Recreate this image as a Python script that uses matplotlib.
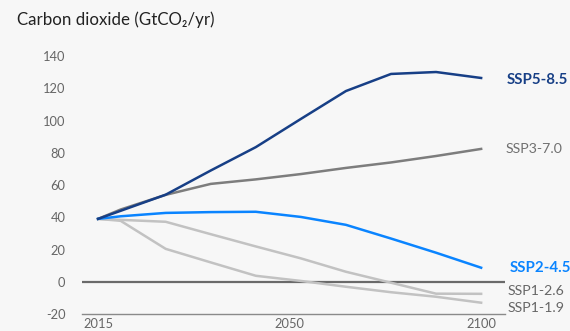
import matplotlib.pyplot as plt

plt.rcParams['font.family'] = ['Lato', 'DejaVu Sans']

years = [2015, 2020, 2030, 2040, 2050, 2060, 2070, 2080, 2090, 2100]

ssp585 = [39.0, 44.0, 54.0, 69.0, 83.5, 101.0, 118.3, 128.9, 130.1, 126.4]
ssp370 = [39.0, 44.8, 53.9, 60.7, 63.5, 66.8, 70.6, 74.0, 78.0, 82.4]
ssp245 = [39.0, 40.6, 42.7, 43.2, 43.4, 40.2, 35.3, 26.8, 18.0, 8.7]
ssp126 = [39.0, 38.4, 37.2, 29.5, 21.9, 14.5, 6.2, -0.6, -7.4, -7.5]
ssp119 = [39.0, 37.8, 20.4, 12.0, 3.7, 0.5, -3.1, -6.5, -9.3, -13.0]

yticks = [-20, 0, 20, 40, 60, 80, 100, 120, 140]
xtick_labels = ['2015', '2050', '2100']
xtick_pos = [2015, 2057.5, 2100]   # middle label sits right of 2050 in the original

BG = '#f7f7f7'
NAVY = '#173f86'
GREY = '#7d7d7d'
BLUE = '#0a84ff'
LIGHT = '#c2c2c2'

fig = plt.figure(figsize=(5.7, 3.31), dpi=100, facecolor=BG)
ax = fig.add_axes([0.144, 0.0514, 0.742, 0.8036], facecolor=BG)

ax.axhline(0, color='#6a6a6a', lw=1.6, zorder=1)

ax.plot(years, ssp119, color=LIGHT, lw=1.8, zorder=2)
ax.plot(years, ssp126, color=LIGHT, lw=1.8, zorder=2)
ax.plot(years, ssp370, color=GREY, lw=1.8, zorder=3)
ax.plot(years, ssp245, color=BLUE, lw=1.8, zorder=4)
ax.plot(years, ssp585, color=NAVY, lw=1.8, zorder=5)

ax.set_xlim(2011.45, 2105.3)
ax.set_ylim(-20, 145)

for s in ['top', 'right', 'left']:
    ax.spines[s].set_visible(False)
ax.spines['bottom'].set_position(('data', -20))
ax.spines['bottom'].set_color('#8a8a8a')
ax.spines['bottom'].set_linewidth(1.0)

ax.set_yticks(yticks)
ax.set_yticklabels([str(v) for v in yticks])
ax.set_xticks(xtick_pos)
ax.set_xticklabels(xtick_labels)
ax.tick_params(axis='both', length=0, labelsize=9.3, labelcolor='#666666')
ax.tick_params(axis='y', pad=12)
ax.tick_params(axis='x', pad=3)

lx = 2105.6
ax.text(lx, ssp585[-1] - 1, 'SSP5-8.5', color=NAVY, fontsize=10.8, fontweight='bold',
        va='center', ha='left', clip_on=False)
ax.text(lx - 0.2, ssp370[-1], 'SSP3-7.0', color='#707070', fontsize=10.2,
        va='center', ha='left', clip_on=False)
ax.text(lx + 0.8, ssp245[-1], 'SSP2-4.5', color=BLUE, fontsize=10.8, fontweight='bold',
        va='center', ha='left', clip_on=False)
ax.text(lx + 0.2, -5.6, 'SSP1-2.6', color='#666666', fontsize=10.2,
        va='center', ha='left', clip_on=False)
ax.text(lx + 0.2, -16.0, 'SSP1-1.9', color='#666666', fontsize=10.2,
        va='center', ha='left', clip_on=False)

fig.text(17 / 570, 1 - 20 / 331, 'Carbon dioxide (GtCO₂/yr)', fontsize=12.2,
         color='#222222', va='center', ha='left')

fig.savefig('out.png', dpi=100, facecolor=BG)
